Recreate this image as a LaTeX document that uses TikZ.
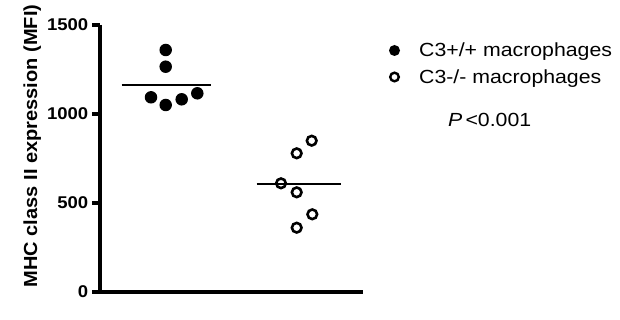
\documentclass[tikz,border=0pt]{standalone}
\usepackage{fontspec}
\setmainfont{Liberation Sans}
\newfontfamily\tickfont[FakeStretch=1.09]{Liberation Sans}
\newfontfamily\labfont[FakeStretch=1.06]{Liberation Sans}
\newfontfamily\legfont[FakeStretch=1.12]{Liberation Sans}
\begin{document}
\begin{tikzpicture}[x=1pt,y=-1pt,
  axis/.style={line width=3.4pt},
  meanline/.style={line width=2.4pt},
  filledpt/.style={circle,fill=black,inner sep=0pt,minimum size=12.5pt},
  openpt/.style={circle,draw=black,fill=white,line width=2.6pt,inner sep=0pt,minimum size=9.6pt},
  legfilled/.style={circle,fill=black,inner sep=0pt,minimum size=11pt},
  legopen/.style={circle,draw=black,line width=2.4pt,inner sep=0pt,minimum size=8.6pt},
  ticklab/.style={anchor=east,inner sep=0pt,font=\tickfont\bfseries\fontsize{17}{20}\selectfont},
  legtext/.style={anchor=base west,inner sep=0pt,font=\legfont\fontsize{19}{22}\selectfont}]
\useasboundingbox (0,0) rectangle (620,320);
% axes
\coordinate (ytop) at (100,25);
\coordinate (origin) at (100,292);
\coordinate (xend) at (363,292);
\draw[axis] (ytop) -- (origin) -- (xend);
% ticks
\foreach \v in {0,500,1000,1500}{
  \coordinate (tick\v) at (100,{292-0.178*\v});
  \draw[axis] (tick\v) -- ++(-8.5,0) node[ticklab,xshift=-1.5pt] (lab\v) {\v};
}
% y label
\node[rotate=90,anchor=base,inner sep=0pt,font=\labfont\bfseries\fontsize{18.9}{22}\selectfont] (ylabel) at (37,146) {MHC class II expression (MFI)};
% group 1 (filled)
\node[filledpt] (f1) at (165.7,50) {};
\node[filledpt] (f2) at (165.7,66.7) {};
\node[filledpt] (f3) at (151,97.3) {};
\node[filledpt] (f4) at (165.7,105) {};
\node[filledpt] (f5) at (181.7,99.3) {};
\node[filledpt] (f6) at (197.3,93.3) {};
\coordinate (m1a) at (121.7,85);
\coordinate (m1b) at (210.7,85);
\draw[meanline] (m1a) -- (m1b);
% group 2 (open)
\node[openpt] (o1) at (311.7,140.7) {};
\node[openpt] (o2) at (296.7,153.3) {};
\node[openpt] (o3) at (281,183.3) {};
\node[openpt] (o4) at (296.7,192.3) {};
\node[openpt] (o5) at (312.3,214.3) {};
\node[openpt] (o6) at (296.7,227.7) {};
\coordinate (m2a) at (256.7,184.3);
\coordinate (m2b) at (340.7,184.3);
\draw[meanline] (m2a) -- (m2b);
% legend
\node[legfilled] (lm1) at (394.5,50.5) {};
\node[legopen] (lm2) at (394.5,77) {};
\node[legtext] (lt1) at (419,57) {C3+/+ macrophages};
\node[legtext] (lt2) at (419,84) {C3-/- macrophages};
\node[legtext] (pval) at (448,127) {\textit{P}\,<0.001};
\end{tikzpicture}
\end{document}
